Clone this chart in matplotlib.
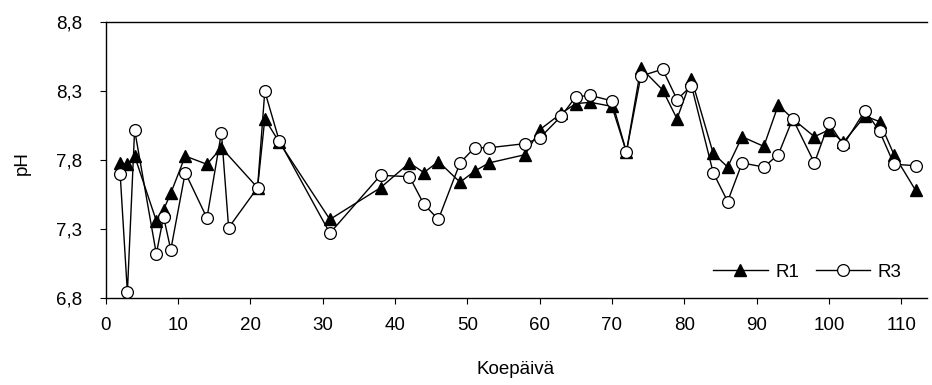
import matplotlib
matplotlib.use("Agg")
import matplotlib.pyplot as plt

plt.rcParams['font.family'] = ['Liberation Sans', 'DejaVu Sans']

# koepäivät ja pH-arvot, reaktorit R1 ja R3
r1_day = [2, 3, 4, 7, 8, 9, 11, 14, 16, 21, 22, 24, 31, 38, 42, 44, 46, 49, 51, 53,
          58, 60, 63, 65, 67, 70, 72, 74, 77, 79, 81, 84, 86, 88, 91, 93, 95, 98,
          100, 102, 105, 107, 109, 112]
r1_ph = [7.78, 7.77, 7.83, 7.36, 7.44, 7.56, 7.83, 7.77, 7.89, 7.60, 8.10, 7.93,
         7.37, 7.60, 7.78, 7.71, 7.79, 7.64, 7.72, 7.78, 7.84, 8.02, 8.14, 8.21,
         8.22, 8.19, 7.86, 8.47, 8.31, 8.10, 8.39, 7.85, 7.75, 7.97, 7.90, 8.20,
         8.10, 7.97, 8.02, 7.93, 8.12, 8.08, 7.84, 7.58]

r3_day = [2, 3, 4, 7, 8, 9, 11, 14, 16, 17, 21, 22, 24, 31, 38, 42, 44, 46, 49, 51,
          53, 58, 60, 63, 65, 67, 70, 72, 74, 77, 79, 81, 84, 86, 88, 91, 93, 95,
          98, 100, 102, 105, 107, 109, 112]
r3_ph = [7.70, 6.84, 8.02, 7.12, 7.39, 7.15, 7.71, 7.38, 8.00, 7.31, 7.60, 8.30,
         7.94, 7.27, 7.69, 7.68, 7.48, 7.37, 7.78, 7.89, 7.89, 7.92, 7.96, 8.12,
         8.26, 8.27, 8.23, 7.86, 8.41, 8.46, 8.24, 8.34, 7.71, 7.50, 7.78, 7.75,
         7.84, 8.10, 7.78, 8.07, 7.91, 8.16, 8.01, 7.77, 7.76]

y_ticks = [6.8, 7.3, 7.8, 8.3, 8.8]
y_labels = ['6,8', '7,3', '7,8', '8,3', '8,8']
x_ticks = list(range(0, 120, 10))

fs = 13.5
fig = plt.figure(figsize=(9.32, 3.85), dpi=100)
ax = fig.add_axes([0.1134, 0.226, 0.8815, 0.716])

ax.plot(r1_day, r1_ph, color='black', lw=1.0, marker='^', ms=9,
        mfc='black', mec='black', label='R1', zorder=3)
ax.plot(r3_day, r3_ph, color='black', lw=1.0, marker='o', ms=8.5,
        mfc='white', mec='black', mew=0.9, label='R3', zorder=4)

ax.set_xlim(0, 113.6)
ax.set_ylim(6.8, 8.8)
ax.set_xticks(x_ticks)
ax.set_yticks(y_ticks)
ax.set_yticklabels(y_labels)
ax.tick_params(direction='out', length=4, width=0.8, labelsize=fs, pad=10)
ax.tick_params(axis='y', pad=13)

ax.spines['right'].set_visible(False)
for s in ['left', 'bottom', 'top']:
    ax.spines[s].set_linewidth(1.0)

fig.text(22 / 932, 1 - 163 / 385, 'pH', rotation=90, ha='center', va='center', fontsize=fs)
fig.text(516 / 932, 1 - 369 / 385, 'Koepäivä', ha='center', va='center', fontsize=fs)

ax.legend(loc='center left', bbox_to_anchor=(0.728, 0.094), ncol=2, frameon=False,
          fontsize=fs, borderpad=0, handlelength=2.9, handletextpad=0.4,
          columnspacing=0.9)

fig.savefig('out.png', dpi=100)
